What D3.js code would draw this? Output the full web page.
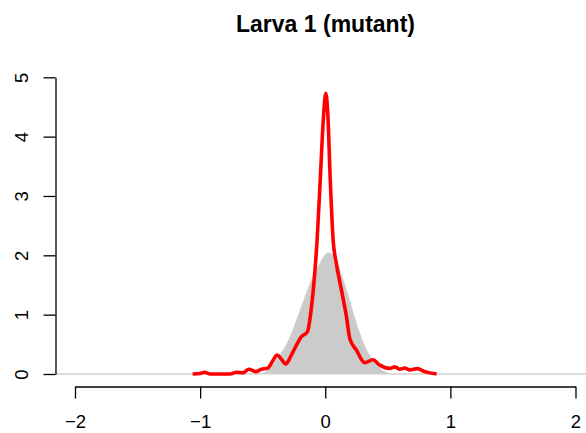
<!DOCTYPE html>
<html>
<head>
<meta charset="utf-8">
<script src="https://cdn.jsdelivr.net/npm/d3@7"></script>
<style>
  html, body { margin: 0; padding: 0; background: #fff; }
  svg { display: block; font-family: "Liberation Sans", Arial, Helvetica, sans-serif; }
</style>
</head>
<body>
<div id="chart"></div>
<script>
// ---- data ----
const TITLE = 'Larva 1 (mutant)';
const X_TICKS = [-2, -1, 0, 1, 2];
const Y_TICKS = [0, 1, 2, 3, 4, 5];

// wild-type / reference density (grey fill)
const greyX = [-2.155, -0.6, -0.52, -0.47, -0.418, -0.364, -0.31, -0.258, -0.204, -0.15, -0.098, -0.044, -0.01, 0.022, 0.06, 0.116, 0.17, 0.22, 0.276, 0.33, 0.38, 0.436, 0.49, 0.55, 2.2];
const greyY = [0, 0, 0.01, 0.04, 0.15, 0.32, 0.49, 0.74, 1.05, 1.36, 1.64, 1.86, 1.98, 2.04, 2.0, 1.75, 1.41, 1.05, 0.68, 0.40, 0.24, 0.10, 0.02, 0, 0];

// mutant density (red line)
const redX = [-1.06, -1.0, -0.964, -0.92, -0.76, -0.71, -0.66, -0.61, -0.556, -0.51, -0.46, -0.42, -0.385, -0.35, -0.316, -0.28, -0.244, -0.19, -0.143, -0.11, -0.084, -0.065, -0.04, -0.015, 0.004, 0.02, 0.04, 0.063, 0.089, 0.13, 0.17, 0.196, 0.25, 0.316, 0.38, 0.436, 0.516, 0.556, 0.596, 0.636, 0.676, 0.735, 0.796, 0.89];
const redY = [0, 0.01, 0.03, 0, 0, 0.03, 0.02, 0.08, 0.04, 0.08, 0.1, 0.22, 0.32, 0.25, 0.17, 0.28, 0.43, 0.63, 0.71, 1.13, 1.7, 2.26, 3.27, 4.3, 4.73, 4.4, 3.27, 2.26, 1.86, 1.41, 0.96, 0.6, 0.40, 0.19, 0.24, 0.15, 0.095, 0.12, 0.08, 0.1, 0.067, 0.09, 0.04, 0];

const W = 586, H = 433;
const grey = greyX.map((x, i) => ({ x, y: greyY[i] }));
const red = redX.map((x, i) => ({ x, y: redY[i] }));

const svg = d3.select('#chart').append('svg')
  .attr('width', W).attr('height', H);

// scales (R-style: axes drawn only over the tick range)
const x = d3.scaleLinear().domain([-2, 2]).range([75, 575.5]);
const y = d3.scaleLinear().domain([0, 5]).range([374, 77.3]);
const plotLeft = 55.5, plotBottom = 386.5;

// dotted grey fill pattern
const defs = svg.append('defs');
const pat = defs.append('pattern').attr('id', 'dots')
  .attr('width', 2).attr('height', 2).attr('patternUnits', 'userSpaceOnUse');
pat.append('rect').attr('width', 2).attr('height', 2).attr('fill', '#d4d4d4');
pat.append('rect').attr('width', 1).attr('height', 1).attr('fill', '#c2c2c2');
pat.append('rect').attr('x', 1).attr('y', 1).attr('width', 1).attr('height', 1).attr('fill', '#c2c2c2');

defs.append('clipPath').attr('id', 'plotclip')
  .append('rect').attr('x', plotLeft).attr('y', 60).attr('width', W - plotLeft).attr('height', plotBottom - 60);

const g = svg.append('g').attr('clip-path', 'url(#plotclip)');

g.append('path').datum(grey)
  .attr('fill', 'url(#dots)')
  .attr('stroke', '#d0d0d0').attr('stroke-width', 1)
  .attr('d', d3.area().x(d => x(d.x)).y0(y(0)).y1(d => y(d.y)).curve(d3.curveMonotoneX));

g.append('path').datum(red)
  .attr('fill', 'none')
  .attr('stroke', '#ff0000').attr('stroke-width', 3.6)
  .attr('stroke-linejoin', 'round').attr('stroke-linecap', 'butt')
  .attr('d', d3.line().x(d => x(d.x)).y(d => y(d.y)).curve(d3.curveMonotoneX));

// x axis
const fmt = d => d < 0 ? '\u2212' + Math.abs(d) : String(d);
const xa = svg.append('g').attr('transform', `translate(0,${plotBottom})`)
  .call(d3.axisBottom(x).tickValues(X_TICKS).tickFormat(fmt).tickSize(12).tickSizeOuter(0));
xa.select('.domain').attr('stroke', '#000').attr('stroke-width', 1.3);
xa.selectAll('.tick line').attr('stroke', '#000').attr('stroke-width', 1.3);
xa.selectAll('.tick text')
  .style('font-size', '18.5px').attr('fill', '#000')
  .attr('dy', null).attr('dominant-baseline', 'central').attr('y', 35);

// y axis (labels rotated like R's las=0)
const ya = svg.append('g').attr('transform', `translate(${plotLeft},0)`)
  .call(d3.axisLeft(y).tickValues(Y_TICKS).tickFormat(fmt).tickSize(12).tickSizeOuter(0));
ya.select('.domain').attr('stroke', '#000').attr('stroke-width', 1.3);
ya.selectAll('.tick line').attr('stroke', '#000').attr('stroke-width', 1.3);
ya.selectAll('.tick text')
  .style('font-size', '18.5px').attr('fill', '#000')
  .attr('x', null).attr('dy', null)
  .attr('text-anchor', 'middle').attr('dominant-baseline', 'central')
  .attr('transform', 'translate(-34,0) rotate(-90)');

// title
svg.append('text')
  .attr('x', 325.5).attr('y', 31.5)
  .attr('text-anchor', 'middle')
  .style('font-size', '23px').attr('font-weight', 'bold')
  .text(TITLE);
</script>
</body>
</html>
